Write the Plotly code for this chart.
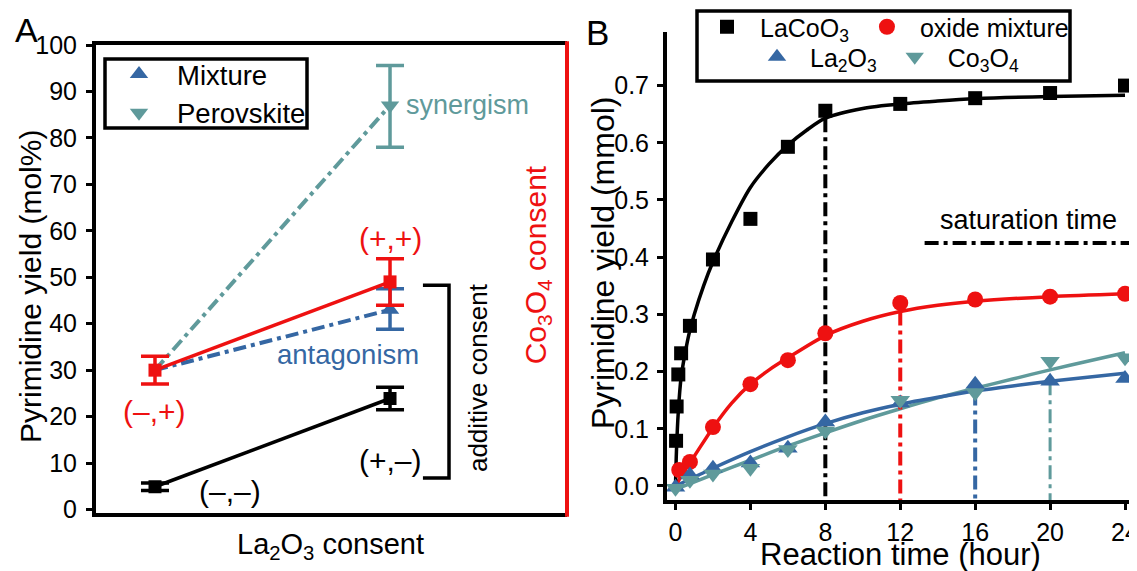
import plotly.graph_objects as go

FONT = "Liberation Sans, Arial, sans-serif"
W, H = 1137, 571          # target picture size
OFF = 8                   # default page body margin
FW, FH = W - OFF, H - OFF  # figure size
BLACK = "#000000"
RED = "#ee1111"
BLUE = "#3567a3"
TEAL = "#5f9a9b"

# ---------------- Panel A data ----------------
a_x = [0, 1]
a_none_y = [4.9, 23.9]          # (–,–) -> (+,–)
a_none_err = [0.8, 2.4]
a_co_y = [30.0, 49.0]           # (–,+) -> (+,+)
a_co_err = [3.0, 5.0]
a_mix_y = [30.0, 43.0]          # Mixture
a_mix_err_plus = [0.0, 4.5]
a_mix_err_minus = [0.0, 4.2]
a_perov_y = [30.0, 87.0]        # Perovskite
a_perov_err_plus = [0.0, 8.6]
a_perov_err_minus = [0.0, 9.0]
a_yticks = list(range(0, 101, 10))

# ---------------- Panel B data ----------------
b_lacoo3_t = [0.03, 0.06, 0.15, 0.3, 0.77, 2, 4, 6, 8, 12, 16, 20, 24]
b_lacoo3_y = [0.079, 0.139, 0.195, 0.232, 0.280, 0.396, 0.467, 0.593, 0.656, 0.668, 0.678, 0.687, 0.700]
b_oxmix_t = [0.2, 0.77, 2, 4, 6, 8, 12, 16, 20, 24]
b_oxmix_y = [0.028, 0.042, 0.103, 0.178, 0.220, 0.267, 0.320, 0.326, 0.331, 0.336]
b_la2o3_t = [0, 0.77, 2, 4, 6, 8, 12, 16, 20, 24]
b_la2o3_y = [-0.002, 0.019, 0.031, 0.040, 0.066, 0.112, 0.145, 0.178, 0.183, 0.188]
b_co3o4_t = [0, 0.77, 2, 4, 6, 8, 12, 16, 20, 24]
b_co3o4_y = [-0.004, 0.010, 0.021, 0.031, 0.064, 0.096, 0.150, 0.163, 0.218, 0.224]

# fitted curves
fit_lacoo3_t = [0, 0.05, 0.15, 0.3, 0.5, 0.75, 1, 1.5, 2, 3, 4, 5, 6, 7, 8, 10, 12, 14, 16, 20, 24]
fit_lacoo3_y = [0, 0.06, 0.13, 0.19, 0.23, 0.27, 0.30, 0.35, 0.392, 0.462, 0.522, 0.563, 0.596, 0.622, 0.643, 0.660, 0.668, 0.673, 0.677, 0.681, 0.683]
fit_oxmix_t = [0, 0.5, 1, 2, 3, 4, 5, 6, 8, 10, 12, 14, 16, 20, 24]
fit_oxmix_y = [0, 0.028, 0.052, 0.102, 0.145, 0.178, 0.203, 0.224, 0.263, 0.288, 0.305, 0.316, 0.323, 0.331, 0.336]
fit_la2o3_t = [0, 2, 4, 6, 8, 10, 12, 14, 16, 18, 20, 22, 24]
fit_la2o3_y = [0, 0.031, 0.060, 0.086, 0.109, 0.128, 0.143, 0.155, 0.166, 0.175, 0.183, 0.190, 0.197]
fit_co3o4_t = [0, 2, 4, 6, 8, 10, 12, 14, 16, 18, 20, 22, 24]
fit_co3o4_y = [-0.006, 0.020, 0.045, 0.070, 0.093, 0.115, 0.135, 0.154, 0.171, 0.187, 0.203, 0.218, 0.233]

# saturation times
sat_t = [8, 12, 16, 20]
sat_y = [0.643, 0.305, 0.165, 0.183]
sat_colors = [BLACK, RED, BLUE, TEAL]
sat_widths = [4, 4, 4, 3]
b_xticks = [0, 4, 8, 12, 16, 20, 24]
b_yticks = [0.0, 0.1, 0.2, 0.3, 0.4, 0.5, 0.6, 0.7]

# axis ranges
A_XR = [-0.251, 1.753]
A_YR = [-0.75, 100]
B_XR = [-0.454, 24.64]
B_YR = [-0.0245, 0.7937]

DASHDOT = "13px,5px,4px,5px"

fig = go.Figure()

# ---- Panel A traces ----
fig.add_trace(go.Scatter(x=a_x, y=a_perov_y, mode="lines", line=dict(color=TEAL, width=4, dash=DASHDOT),
                         showlegend=False, xaxis="x", yaxis="y"))
fig.add_trace(go.Scatter(x=a_x, y=a_mix_y, mode="lines", line=dict(color=BLUE, width=4, dash=DASHDOT),
                         showlegend=False, xaxis="x", yaxis="y"))
fig.add_trace(go.Scatter(x=a_x[1:], y=a_mix_y[1:], mode="markers", name="Mixture",
                         marker=dict(symbol="triangle-up", size=16, color=BLUE),
                         error_y=dict(type="data", array=a_mix_err_plus[1:], arrayminus=a_mix_err_minus[1:],
                                      color=BLUE, thickness=3.5, width=14),
                         legend="legend", xaxis="x", yaxis="y"))
fig.add_trace(go.Scatter(x=a_x[1:], y=a_perov_y[1:], mode="markers", name="Perovskite",
                         marker=dict(symbol="triangle-down", size=16, color=TEAL),
                         error_y=dict(type="data", array=a_perov_err_plus[1:], arrayminus=a_perov_err_minus[1:],
                                      color=TEAL, thickness=3.5, width=14),
                         legend="legend", xaxis="x", yaxis="y"))
fig.add_trace(go.Scatter(x=a_x, y=a_none_y, mode="lines+markers", line=dict(color=BLACK, width=3.5),
                         marker=dict(symbol="square", size=13, color=BLACK),
                         error_y=dict(type="data", array=a_none_err, color=BLACK, thickness=3.5, width=14),
                         showlegend=False, xaxis="x", yaxis="y"))
fig.add_trace(go.Scatter(x=a_x, y=a_co_y, mode="lines+markers", line=dict(color=RED, width=3.5),
                         marker=dict(symbol="square", size=13, color=RED),
                         error_y=dict(type="data", array=a_co_err, color=RED, thickness=3.5, width=14),
                         showlegend=False, xaxis="x", yaxis="y"))

# ---- Panel B traces ----
for t, y, c in [(fit_co3o4_t, fit_co3o4_y, TEAL), (fit_la2o3_t, fit_la2o3_y, BLUE),
                (fit_oxmix_t, fit_oxmix_y, RED), (fit_lacoo3_t, fit_lacoo3_y, BLACK)]:
    fig.add_trace(go.Scatter(x=t, y=y, mode="lines", line=dict(color=c, width=3.5, shape="spline", smoothing=0.8),
                             showlegend=False, xaxis="x2", yaxis="y2"))

for st, sy, c, w in zip(sat_t, sat_y, sat_colors, sat_widths):
    fig.add_trace(go.Scatter(x=[st, st], y=[sy, B_YR[0]], mode="lines",
                             line=dict(color=c, width=w, dash="14px,5px,4px,5px"),
                             showlegend=False, xaxis="x2", yaxis="y2", cliponaxis=False))

fig.add_trace(go.Scatter(x=b_lacoo3_t, y=b_lacoo3_y, mode="markers", name="LaCoO<sub>3</sub>",
                         marker=dict(symbol="square", size=14, color=BLACK),
                         legend="legend2", xaxis="x2", yaxis="y2", cliponaxis=False))
fig.add_trace(go.Scatter(x=b_oxmix_t, y=b_oxmix_y, mode="markers", name="oxide mixture",
                         marker=dict(symbol="circle", size=16, color=RED),
                         legend="legend2", xaxis="x2", yaxis="y2", cliponaxis=False))
fig.add_trace(go.Scatter(x=b_la2o3_t, y=b_la2o3_y, mode="markers", name="La<sub>2</sub>O<sub>3</sub>",
                         marker=dict(symbol="triangle-up", size=17, color=BLUE),
                         legend="legend3", xaxis="x2", yaxis="y2", cliponaxis=False))
fig.add_trace(go.Scatter(x=b_co3o4_t, y=b_co3o4_y, mode="markers", name="Co<sub>3</sub>O<sub>4</sub>",
                         marker=dict(symbol="triangle-down", size=17, color=TEAL),
                         legend="legend3", xaxis="x2", yaxis="y2", cliponaxis=False))


def px(x):
    return (x - OFF) / FW


def py(y):
    return 1 - (y - OFF) / FH


axis_common = dict(showgrid=False, zeroline=False, showline=True, linecolor=BLACK, linewidth=4,
                   tickcolor=BLACK, tickwidth=3, ticklen=6,
                   tickfont=dict(family=FONT, size=25, color=BLACK))

fig.update_layout(
    width=FW, height=FH, margin=dict(l=0, r=0, t=0, b=0, autoexpand=False),
    paper_bgcolor="white", plot_bgcolor="white",
    font=dict(family=FONT, color=BLACK),
    xaxis=dict(domain=[px(96), px(567)], range=A_XR, mirror=True, ticks="", showticklabels=False,
               anchor="y", **{k: v for k, v in axis_common.items() if k not in ("tickfont",)}),
    yaxis=dict(domain=[py(513), py(45)], range=A_YR, ticks="outside", tickvals=a_yticks, anchor="x",
               ticklabelstandoff=4, **axis_common),
    xaxis2=dict(domain=[px(667), 1.0], range=B_XR, ticks="outside", tickvals=b_xticks, anchor="y2",
                ticklabelstandoff=1, ticklabeloverflow="allow", **axis_common),
    yaxis2=dict(domain=[py(500), py(32)], range=B_YR, ticks="outside", tickvals=b_yticks, tickformat=".1f",
                anchor="x2", ticklabelstandoff=3, **axis_common),
    legend=dict(x=px(101), y=py(93.5), xanchor="left", yanchor="middle", bgcolor="rgba(0,0,0,0)",
                borderwidth=0, font=dict(family=FONT, size=27.5, color=BLACK),
                itemwidth=66, tracegroupgap=0),
    legend2=dict(x=px(694), y=py(27), xanchor="left", yanchor="middle", orientation="h",
                 bgcolor="rgba(0,0,0,0)", borderwidth=0, font=dict(family=FONT, size=25, color=BLACK),
                 itemwidth=56),
    legend3=dict(x=px(744), y=py(57), xanchor="left", yanchor="middle", orientation="h",
                 bgcolor="rgba(0,0,0,0)", borderwidth=0, font=dict(family=FONT, size=25, color=BLACK),
                 itemwidth=56),
)

shapes = [
    # red right border of panel A
    dict(type="line", xref="x domain", yref="y domain", x0=1, x1=1, y0=-0.008, y1=1.008,
         line=dict(color=RED, width=4)),
    # bracket "additive consent"
    dict(type="path", xref="x", yref="y", path="M 1.14,48.3 L 1.251,48.3 L 1.251,6.8 L 1.14,6.8",
         line=dict(color=BLACK, width=3.5)),
    # saturation time key line
    dict(type="line", xref="x2", yref="y2", x0=13.3, x1=24.64, y0=0.425, y1=0.425,
         line=dict(color=BLACK, width=4, dash="14px,5px,4px,5px")),
    # panel A legend box
    dict(type="rect", xref="paper", yref="paper", x0=px(105), x1=px(307), y0=py(128), y1=py(59),
         line=dict(color=BLACK, width=3.5), fillcolor="rgba(0,0,0,0)"),
    # panel B legend box
    dict(type="rect", xref="paper", yref="paper", x0=px(697), x1=px(1070), y0=py(81), y1=py(11),
         line=dict(color=BLACK, width=3.5), fillcolor="rgba(0,0,0,0)"),
]
fig.update_layout(shapes=shapes)


def ann(text, x, y, size, color=BLACK, xref="paper", yref="paper", angle=0, xanchor="center", yanchor="middle"):
    return dict(text=text, x=x, y=y, xref=xref, yref=yref, showarrow=False, textangle=angle,
                xanchor=xanchor, yanchor=yanchor, font=dict(family=FONT, size=size, color=color))


annotations = [
    ann("A", px(26), py(30), 34),
    ann("B", px(597), py(32), 35),
    ann("Pyrimidine yield (mol%)", px(30), py(287), 30, angle=-90),
    ann("La<sub>2</sub>O<sub>3</sub> consent", px(330), py(546), 29),
    ann("Reaction time (hour)", px(900), py(554), 31),
    ann("Pyrimidine yield (mmol)", px(603), py(263), 32, angle=-90),
    ann("synergism", 1.06, 87, 27, TEAL, "x", "y", xanchor="left"),
    ann("antagonism", 0.82, 33.3, 27.5, BLUE, "x", "y"),
    ann("(+,+)", 1.0, 58.4, 30, RED, "x", "y"),
    ann("(–,+)", 0.0, 21.0, 30, RED, "x", "y"),
    ann("(+,–)", 1.0, 10.6, 30, BLACK, "x", "y"),
    ann("(–,–)", 0.32, 3.8, 30, BLACK, "x", "y"),
    ann("additive consent", 1.374, 28.5, 26, BLACK, "x", "y", angle=-90),
    ann("Co<sub>3</sub>O<sub>4</sub> consent", 1.626, 52.6, 30, RED, "x", "y", angle=-90),
    ann("saturation time", 18.85, 0.465, 27, BLACK, "x2", "y2"),
]
fig.update_layout(annotations=annotations)

fig.write_html("out.html")
